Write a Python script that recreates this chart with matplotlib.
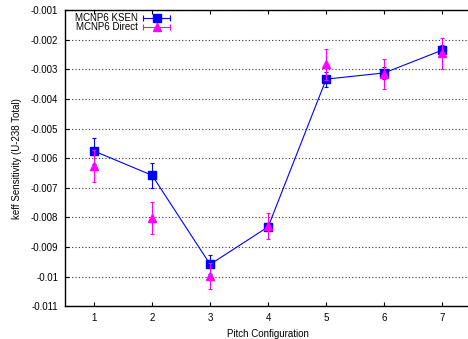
import numpy as np
import matplotlib
matplotlib.use("Agg")
import matplotlib.pyplot as plt

# pitch configurations and U-238 total keff sensitivities
pitch = [1, 2, 3, 4, 5, 6, 7]

ksen = [-0.00576, -0.00658, -0.00959, -0.00832, -0.00333, -0.00312, -0.00235]
ksen_err = [0.00045, 0.00043, 0.00033, 0.00012, 0.00025, 0.00020, 0.00018]

direct = [-0.00626, -0.00802, -0.00998, -0.00830, -0.00283, -0.00316, -0.00246]
direct_err = [0.00055, 0.00053, 0.00045, 0.00043, 0.00053, 0.00052, 0.00053]

yticks = [-0.011, -0.01, -0.009, -0.008, -0.007, -0.006, -0.005,
          -0.004, -0.003, -0.002, -0.001]
yticklabels = ["-0.011", "-0.01", "-0.009", "-0.008", "-0.007", "-0.006",
               "-0.005", "-0.004", "-0.003", "-0.002", "-0.001"]

series_names = ['MCNP6 KSEN', 'MCNP6 Direct']

blue = '#0000ff'
magenta = '#ff00ff'

plt.rcParams['font.family'] = ['Liberation Sans', 'DejaVu Sans']
plt.rcParams['font.size'] = 7

fig = plt.figure(figsize=(4.68, 3.39), dpi=100)
ax = fig.add_axes([0.139, 0.097, 0.868, 0.873])

ax.errorbar(pitch, ksen, yerr=ksen_err, color=blue, marker='s',
            markersize=6, lw=0.8, elinewidth=0.8, capsize=1.7, capthick=0.8,
            zorder=3)
ax.errorbar(pitch, direct, yerr=direct_err, color=magenta, marker='^',
            markersize=6, ls='none', elinewidth=0.8, capsize=1.7,
            capthick=0.8, zorder=4)

ax.set_xlim(0.5, 7.5)
ax.set_ylim(-0.011, -0.001)
ax.set_xticks(pitch)
ax.set_yticks(yticks)
ax.set_yticklabels(yticklabels)
ax.yaxis.grid(True, ls=(0, (1, 2)), color='#333333', lw=0.8)
ax.tick_params(direction='in', top=True, right=False, length=3, width=0.8)
ax.tick_params(axis='x', pad=5)
ax.tick_params(axis='y', pad=5)
ax.spines['right'].set_visible(False)
for s in ['left', 'bottom', 'top']:
    ax.spines[s].set_linewidth(1.0)

ax.set_xlabel('Pitch Configuration', labelpad=4)
ax.set_ylabel('keff Sensitivity (U-238 Total)', labelpad=6)

# key in the upper left: label, then a line with end caps and the marker
tr = ax.transAxes
for name, col, mk, yy in [(series_names[0], blue, 's', 0.973),
                          (series_names[1], magenta, '^', 0.943)]:
    ax.text(0.18, yy, name, transform=tr, ha='right', va='center')
    ax.plot([0.192, 0.259], [yy, yy], color=col, lw=0.8, transform=tr,
            clip_on=False)
    ax.plot([0.192, 0.259], [yy, yy], color=col, ls='none', marker='|',
            markersize=4, mew=0.8, transform=tr, clip_on=False)
    ax.plot([0.2255], [yy], color=col, marker=mk, markersize=6,
            ls='none', transform=tr, clip_on=False)

fig.savefig('out.png', dpi=100)
